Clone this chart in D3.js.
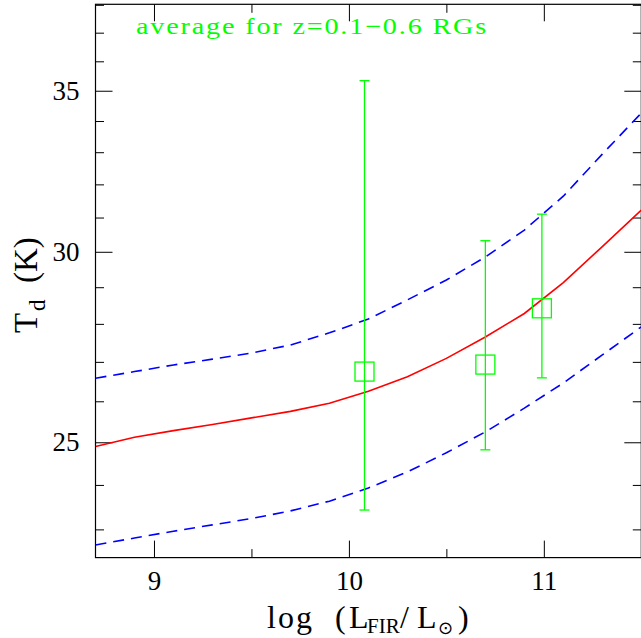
<!DOCTYPE html>
<html>
<head>
<meta charset="utf-8">
<script src="https://cdn.jsdelivr.net/npm/d3@7"></script>
<style>
  html, body { margin: 0; padding: 0; background: #fff; }
  svg { display: block; }
  text { font-family: "Liberation Serif", "DejaVu Serif", serif; fill: #000; }
</style>
</head>
<body>
<svg id="chart" width="641" height="638"></svg>
<script>
// Far-infrared luminosity grid (log L_FIR / L_sun) on which the model curves are sampled
const lumGrid = [8.7, 8.9, 9.1, 9.3, 9.5, 9.7, 9.9, 10.1, 10.3, 10.5, 10.7, 10.9, 11.1, 11.3, 11.5];
// Dust temperature relation (K): median and the upper / lower envelopes
const tdModel = [24.90, 25.12, 25.28, 25.43, 25.59, 25.75, 25.95, 26.25, 26.62, 27.09, 27.65, 28.28, 29.13, 30.15, 31.22];
const tdUpper = [26.58, 26.75, 26.92, 27.07, 27.23, 27.44, 27.76, 28.13, 28.65, 29.20, 29.85, 30.63, 31.64, 32.94, 34.26];
const tdLower = [22.66, 22.81, 22.96, 23.10, 23.24, 23.41, 23.63, 23.93, 24.30, 24.75, 25.25, 25.83, 26.46, 27.18, 27.92];

// Averages for z = 0.1-0.6 radio galaxies
const rgLum  = [10.08, 10.70, 10.99];
const rgTd   = [26.75, 26.93, 28.42];
const rgTdLo = [23.43, 24.82, 26.59];
const rgTdHi = [35.34, 30.32, 31.10];

// Axis ticks
const xMajorTicks = [9, 10, 11];
const xMinorTicks = [9.5, 10.5];
const yMajorTicks = [25, 30, 35];
const yMinorTicks = [23, 24, 26, 27, 28, 29, 31, 32, 33, 34, 36, 37, 38];

const svg = d3.select("#chart");
const frameL = 95.5, frameR = 641.3, frameT = 4.3, frameB = 557.6;

const x = d3.scaleLinear().domain([8.7, 11.5]).range([frameL, frameR]);
const y = d3.scaleLog().domain([Math.pow(10, 1.35), Math.pow(10, 1.58)]).range([frameB, frameT]);

const plot = svg.append("g");

// clip curves to the frame
svg.append("defs").append("clipPath").attr("id", "frame")
  .append("rect").attr("x", frameL).attr("y", frameT).attr("width", frameR - frameL).attr("height", frameB - frameT);

const MAJ = 17, MIN = 8.5;

// axes: bottom/top share ticks, left/right share ticks (all pointing inward)
const axBottomMaj = d3.axisBottom(x).tickValues(xMajorTicks).tickSizeInner(-MAJ).tickSizeOuter(0).tickFormat(d3.format("d")).tickPadding(13);
const axBottomMin = d3.axisBottom(x).tickValues(xMinorTicks).tickSizeInner(-MIN).tickSizeOuter(0).tickFormat("");
const axTopMaj = d3.axisTop(x).tickValues(xMajorTicks).tickSizeInner(-MAJ).tickSizeOuter(0).tickFormat("");
const axTopMin = d3.axisTop(x).tickValues(xMinorTicks).tickSizeInner(-MIN).tickSizeOuter(0).tickFormat("");
const axLeftMaj = d3.axisLeft(y).tickValues(yMajorTicks).tickSizeInner(-MAJ).tickSizeOuter(0).tickFormat(d3.format("d")).tickPadding(16);
const axLeftMin = d3.axisLeft(y).tickValues(yMinorTicks).tickSizeInner(-MIN).tickSizeOuter(0).tickFormat("");
const axRightMaj = d3.axisRight(y).tickValues(yMajorTicks).tickSizeInner(-MAJ).tickSizeOuter(0).tickFormat("");
const axRightMin = d3.axisRight(y).tickValues(yMinorTicks).tickSizeInner(-MIN).tickSizeOuter(0).tickFormat("");

function place(axis, tx, ty) {
  const g = plot.append("g").attr("transform", `translate(${tx},${ty})`).call(axis);
  g.select(".domain").remove();
  g.selectAll("line").attr("stroke", "#000").attr("stroke-width", 1);
  g.selectAll("text").attr("font-family", "Liberation Serif, DejaVu Serif, serif").attr("font-size", 27).attr("fill", "#000");
  return g;
}
place(axBottomMaj, 0, frameB);
place(axBottomMin, 0, frameB);
place(axTopMaj, 0, frameT);
place(axTopMin, 0, frameT);
place(axLeftMaj, frameL, 0);
place(axLeftMin, frameL, 0);
place(axRightMaj, frameR, 0);
place(axRightMin, frameR, 0);

// frame
plot.append("rect")
  .attr("x", frameL).attr("y", frameT).attr("width", frameR - frameL).attr("height", frameB - frameT)
  .attr("fill", "none").attr("stroke", "#000").attr("stroke-width", 1.2);

// curves
const line = vals => d3.line().x((d, i) => x(lumGrid[i])).y(d => y(d))(vals);
const curves = svg.append("g").attr("clip-path", "url(#frame)");
curves.append("path").attr("d", line(tdUpper))
  .attr("fill", "none").attr("stroke", "#0000ff").attr("stroke-width", 1.6).attr("stroke-dasharray", "11,7");
curves.append("path").attr("d", line(tdLower))
  .attr("fill", "none").attr("stroke", "#0000ff").attr("stroke-width", 1.6).attr("stroke-dasharray", "11,7");
curves.append("path").attr("d", line(tdModel))
  .attr("fill", "none").attr("stroke", "#ff0000").attr("stroke-width", 1.6);

// radio-galaxy averages with error bars
const green = "#00ff00";
const pts = svg.append("g");
rgLum.forEach((lx, i) => {
  const cx = x(lx);
  pts.append("line").attr("x1", cx).attr("x2", cx).attr("y1", y(rgTdLo[i])).attr("y2", y(rgTdHi[i]))
    .attr("stroke", green).attr("stroke-width", 1.3);
  [rgTdLo[i], rgTdHi[i]].forEach(v => {
    pts.append("line").attr("x1", cx - 5).attr("x2", cx + 5).attr("y1", y(v)).attr("y2", y(v))
      .attr("stroke", green).attr("stroke-width", 1.3);
  });
  pts.append("rect").attr("x", cx - 9.5).attr("y", y(rgTd[i]) - 9.5).attr("width", 19).attr("height", 19)
    .attr("fill", "none").attr("stroke", green).attr("stroke-width", 1.3);
});

// annotation (wide, evenly spaced lettering)
svg.append("text").attr("x", 136).attr("y", 34)
  .attr("font-family", "Liberation Serif, serif")
  .attr("font-size", 23).attr("letter-spacing", 1.5)
  .attr("textLength", 352).attr("lengthAdjust", "spacingAndGlyphs")
  .style("fill", "#00ff00")
  .text("average for z=0.1\u22120.6 RGs");

// x-axis title: log (L_FIR / L_sun)
const xt = svg.append("text").attr("y", 628).attr("font-size", 32);
xt.append("tspan").attr("x", 267).attr("letter-spacing", 2).text("log");
xt.append("tspan").attr("x", 335).text("(");
xt.append("tspan").attr("x", 349).text("L");
xt.append("tspan").attr("x", 367).attr("y", 633).attr("font-size", 21).text("FIR");
xt.append("tspan").attr("x", 400).attr("y", 628).text("/");
xt.append("tspan").attr("x", 417).text("L");
xt.append("tspan").attr("x", 438).attr("y", 634).attr("font-size", 18)
  .attr("font-family", "DejaVu Sans, sans-serif").text("\u2299");
xt.append("tspan").attr("x", 458).attr("y", 628).text(")");

// y-axis title: T_d (K)
const yt = svg.append("text").attr("transform", "translate(37,0) rotate(-90)").attr("font-size", 33);
yt.append("tspan").attr("x", -333).attr("y", 0).text("T");
yt.append("tspan").attr("x", -311).attr("y", 8).attr("font-size", 23).text("d");
yt.append("tspan").attr("x", -283).attr("y", 0).text("(K)");
</script>
</body>
</html>
